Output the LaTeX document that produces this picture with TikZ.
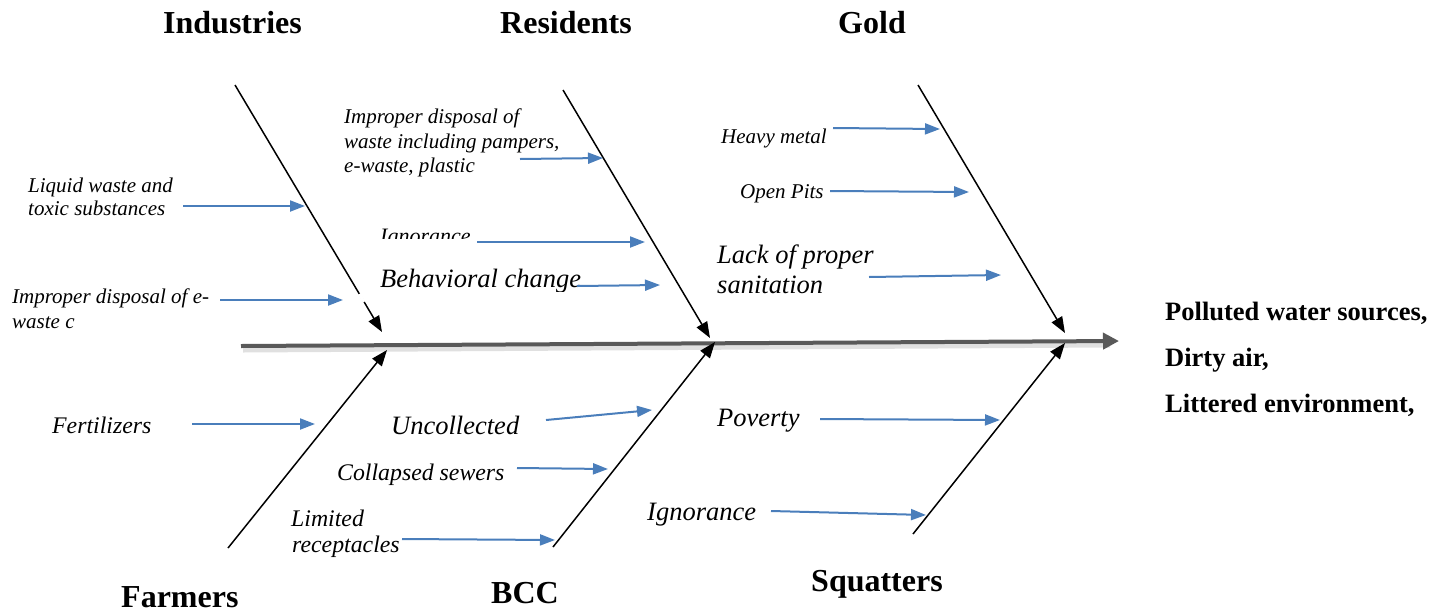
\documentclass[tikz,border=0pt]{standalone}
\usepackage{fontspec}
\setmainfont{Liberation Serif}
\usetikzlibrary{arrows.meta,calc}
\definecolor{arrowblue}{RGB}{74,126,187}
\definecolor{spinegray}{RGB}{89,89,89}
\begin{document}
\begin{tikzpicture}[x=1pt,y=-1pt,
  lbl/.style={anchor=base west, inner sep=0pt, font=\itshape\fontsize{21}{24}\selectfont},
  lblmid/.style={lbl, font=\itshape\fontsize{23.8}{28}\selectfont},
  lblbig/.style={lbl, font=\itshape\fontsize{26.5}{30}\selectfont},
  title/.style={anchor=base west, inner sep=0pt, font=\bfseries\fontsize{32}{36}\selectfont},
  effect/.style={anchor=base west, inner sep=0pt, font=\bfseries\fontsize{26.5}{30}\selectfont},
  bone/.style={line width=1.5pt, black, -{Triangle[length=16pt,width=12pt]}},
  cause/.style={draw=arrowblue, line width=2pt, -{Triangle[length=15pt,width=11pt]}, fill=arrowblue},
  spine/.style={line width=4pt, draw=spinegray, -{Triangle[length=16pt,width=16pt]}, fill=spinegray}
]
\useasboundingbox (0,0) rectangle (1433,614);

% spine
\coordinate (sp0) at (241,346);
\coordinate (sp1) at (1119,341);
\draw[line width=5pt, black!12] (243,350) -- (1110,345);
\draw[spine] (sp0) -- (sp1);

% bones
\coordinate (ind0) at (235,85);   \coordinate (ind1) at (382,332);
\coordinate (res0) at (563,90);   \coordinate (res1) at (710,338);
\coordinate (gold0) at (918,85);  \coordinate (gold1) at (1065,333);
\coordinate (far0) at (228,548);  \coordinate (far1) at (387,350);
\coordinate (bcc0) at (553,547);  \coordinate (bcc1) at (715,342);
\coordinate (squ0) at (913,534);  \coordinate (squ1) at (1065,343);
\draw[bone] (ind0) -- (ind1);
\draw[white, line width=3pt] ($(ind0)!0.846!(ind1)$) -- ($(ind0)!0.878!(ind1)$);
\draw[bone] (res0) -- (res1);
\draw[bone] (gold0) -- (gold1);
\draw[bone] (far0) -- (far1);
\draw[bone] (bcc0) -- (bcc1);
\draw[bone] (squ0) -- (squ1);

% titles
\node[title] (tind) at (163,33) {Industries};
\node[title] (tres) at (500,33) {Residents};
\node[title] (tgold) at (838,33) {Gold};
\node[title] (tfar) at (121,607) {Farmers};
\node[title] (tbcc) at (491,603) {BCC};
\node[title] (tsqu) at (811,591) {Squatters};

% effect
\node[effect] (e1) at (1165,320) {Polluted water sources,};
\node[effect] (e2) at (1165,366) {Dirty air,};
\node[effect] (e3) at (1165,412) {Littered environment,};

% cause labels
\node[lbl] (l1a) at (28,192) {Liquid waste and};
\node[lbl] (l1b) at (28,215) {toxic substances};
\node[lbl] (l2a) at (12,303) {Improper disposal of e-};
\node[lbl] (l2b) at (12,328) {waste c};
\node[lbl] (r1a) at (344,123) {Improper disposal of};
\node[lbl] (r1b) at (344,148) {waste including pampers,};
\node[lbl] (r1c) at (344,172) {e-waste, plastic};
\begin{scope}
  \clip (370,200) rectangle (520,238);
  \node[lbl, font=\itshape\fontsize{22}{26}\selectfont] (r2) at (380,243) {Ignorance};
\end{scope}
\begin{scope}
  \clip (370,250) rectangle (600,291);
  \node[lblbig] (r3) at (380,287) {Behavioral change};
\end{scope}
\node[lbl] (g1) at (721,143) {Heavy metal};
\node[lbl] (g2) at (740,198) {Open Pits};
\node[lblbig] (g3a) at (717,263) {Lack of proper};
\node[lblbig] (g3b) at (717,293) {sanitation};
\node[lblmid] (f1) at (52,433) {Fertilizers};
\node[lblbig] (b1) at (391,434) {Uncollected};
\node[lblmid] (b2) at (337,480) {Collapsed sewers};
\node[lblmid] (b3a) at (291,526) {Limited};
\node[lblmid] (b3b) at (292,552) {receptacles};
\node[lblbig] (s1) at (717,426) {Poverty};
\node[lblbig] (s2) at (647,520) {Ignorance};

% cause arrows
\coordinate (a1s) at (183,206); \coordinate (a1e) at (305,206);
\coordinate (a2s) at (220,300); \coordinate (a2e) at (343,300);
\coordinate (a3s) at (520,159); \coordinate (a3e) at (603,158);
\coordinate (a4s) at (477,242); \coordinate (a4e) at (645,242);
\coordinate (a5s) at (577,286); \coordinate (a5e) at (660,285);
\coordinate (a6s) at (833,128); \coordinate (a6e) at (940,129);
\coordinate (a7s) at (830,191); \coordinate (a7e) at (969,192);
\coordinate (a8s) at (869,277); \coordinate (a8e) at (1001,275);
\coordinate (a9s) at (192,424); \coordinate (a9e) at (315,424);
\coordinate (a10s) at (546,420); \coordinate (a10e) at (652,410);
\coordinate (a11s) at (517,468); \coordinate (a11e) at (608,469);
\coordinate (a12s) at (402,539); \coordinate (a12e) at (555,540);
\coordinate (a13s) at (820,419); \coordinate (a13e) at (1000,420);
\coordinate (a14s) at (771,511); \coordinate (a14e) at (926,515);
\foreach \i in {1,...,14} { \draw[cause] (a\i s) -- (a\i e); }
\end{tikzpicture}
\end{document}
